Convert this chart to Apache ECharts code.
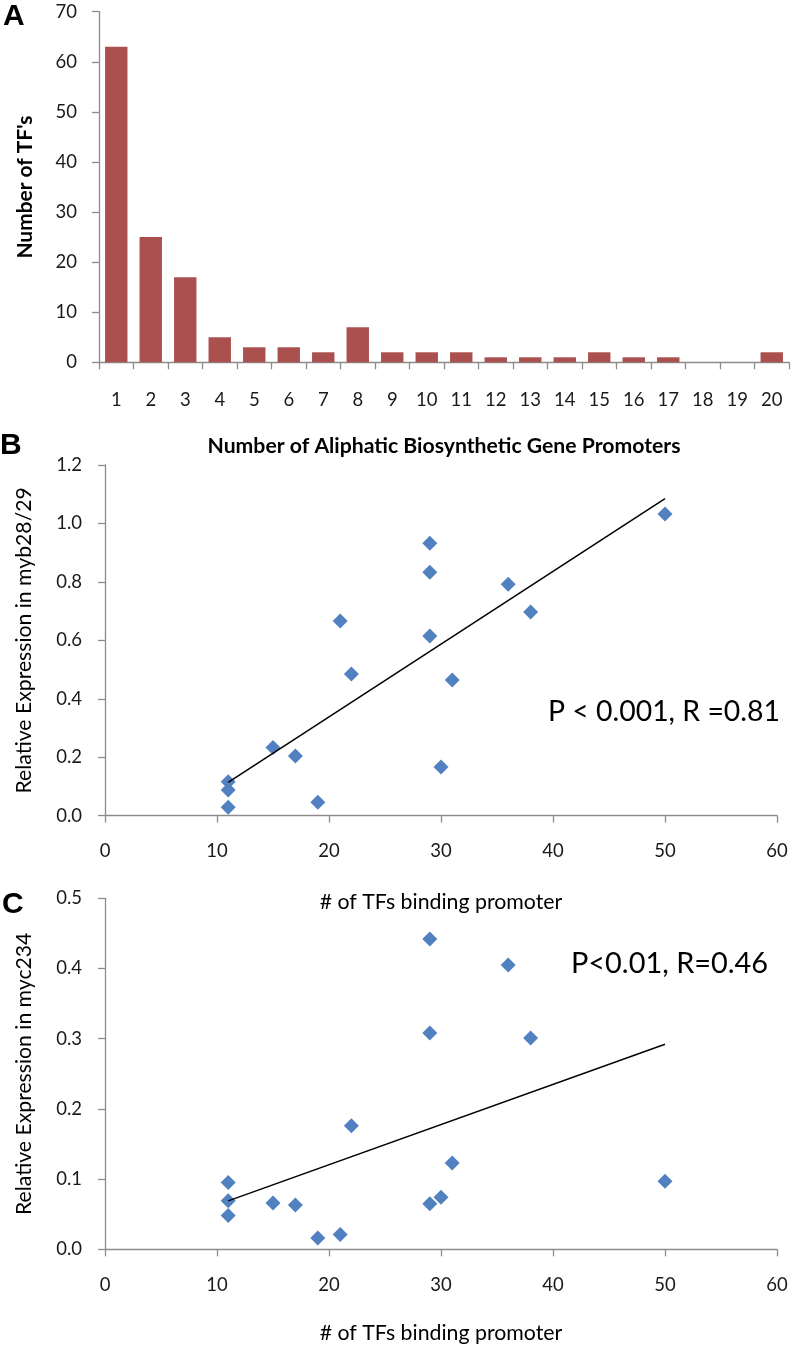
<!DOCTYPE html>
<html>
<head>
<meta charset="utf-8">
<script src="https://cdn.jsdelivr.net/npm/echarts@6/dist/echarts.min.js"></script>
<style>
html,body{margin:0;padding:0;background:#fff;}
#chart{width:793px;height:1345px;}
</style>
</head>
<body>
<div id="chart"></div>
<script>
// Panel A: histogram
const categoriesA = ['1','2','3','4','5','6','7','8','9','10','11','12','13','14','15','16','17','18','19','20'];
const countsA = [63,25,17,5,3,3,2,7,2,2,2,1,1,1,2,1,1,0,0,2];

// Panel B: myb28/29
const xB = [11,11,11,15,17,19,21,22,29,29,29,30,31,36,38,50];
const yB = [0.116,0.088,0.029,0.233,0.204,0.046,0.666,0.485,0.932,0.833,0.615,0.167,0.464,0.792,0.697,1.032];
const trendBx = [11,50];
const trendBy = [0.114,1.085];

// Panel C: myc234
const xC = [11,11,11,15,17,19,21,22,29,29,29,30,31,36,38,50];
const yC = [0.095,0.069,0.048,0.066,0.063,0.016,0.021,0.176,0.442,0.308,0.065,0.074,0.123,0.405,0.301,0.097];
const trendCx = [11,50];
const trendCy = [0.069,0.292];

const titleA_x = 'Number of Aliphatic Biosynthetic Gene Promoters';
const titleA_y = "Number of TF's";
const titleBC_x = '# of TFs binding promoter';
const titleB_y = 'Relative Expression in myb28/29';
const titleC_y = 'Relative Expression in myc234';
const statB = 'P < 0.001, R =0.81';
const statC = 'P<0.01, R=0.46';

const FONT = 'Lato';
const AXIS_COLOR = '#8c8c8c';
const LABEL_COLOR = '#1a1a1a';

// choose a font size so the text spans the given width
const mctx = document.createElement('canvas').getContext('2d');
function fit(text, weight, width) {
  mctx.font = weight + ' 100px ' + FONT;
  return Math.round(100 * width / mctx.measureText(text).width * 10) / 10;
}

const pairs = (xs, ys) => xs.map((x, i) => [x, ys[i]]);

const chart = echarts.init(document.getElementById('chart'), null, {renderer: 'canvas'});

const axisLine = {show: true, lineStyle: {color: AXIS_COLOR, width: 1.3}};
const axisTick = {show: true, length: 7, lineStyle: {color: AXIS_COLOR, width: 1.3}};
const tickLabel = (margin, fmt) => ({fontFamily: FONT, fontSize: 18.5, color: LABEL_COLOR, margin: margin, formatter: fmt});
const nameStyle = (weight, size) => ({fontFamily: FONT, fontWeight: weight, fontSize: size, color: '#000', verticalAlign: 'middle'});

const option = {
  animation: false,
  backgroundColor: '#fff',
  grid: [
    {left: 99, top: 11.7, width: 690, height: 350.6, containLabel: false},
    {left: 105, top: 465, width: 672, height: 350.7, containLabel: false},
    {left: 105, top: 898.3, width: 672, height: 351, containLabel: false}
  ],
  xAxis: [
    {
      gridIndex: 0, type: 'category', data: categoriesA,
      axisLine: axisLine,
      axisTick: {show: true, length: 7, alignWithLabel: false, lineStyle: {color: AXIS_COLOR, width: 1.3}},
      axisLabel: Object.assign(tickLabel(28), {interval: 0}),
      name: titleA_x, nameLocation: 'middle', nameGap: 84,
      nameTextStyle: nameStyle('bold', fit(titleA_x, 'bold', 473))
    },
    {
      gridIndex: 1, type: 'value', min: 0, max: 60, interval: 10,
      axisLine: axisLine, axisTick: axisTick, splitLine: {show: false},
      axisLabel: tickLabel(26),
      name: titleBC_x, nameLocation: 'middle', nameGap: 86,
      nameTextStyle: nameStyle('normal', fit(titleBC_x, 'normal', 243))
    },
    {
      gridIndex: 2, type: 'value', min: 0, max: 60, interval: 10,
      axisLine: axisLine, axisTick: axisTick, splitLine: {show: false},
      axisLabel: tickLabel(26),
      name: titleBC_x, nameLocation: 'middle', nameGap: 84,
      nameTextStyle: nameStyle('normal', fit(titleBC_x, 'normal', 243))
    }
  ],
  yAxis: [
    {
      gridIndex: 0, type: 'value', min: 0, max: 70, interval: 10,
      axisLine: axisLine, axisTick: axisTick, splitLine: {show: false},
      axisLabel: tickLabel(22),
      name: titleA_y, nameLocation: 'middle', nameGap: 74,
      nameTextStyle: nameStyle('bold', fit(titleA_y, 'bold', 143))
    },
    {
      gridIndex: 1, type: 'value', min: 0, max: 1.2, interval: 0.2,
      axisLine: axisLine, axisTick: axisTick, splitLine: {show: false},
      axisLabel: tickLabel(23, v => v.toFixed(1)),
      name: titleB_y, nameLocation: 'middle', nameGap: 81,
      nameTextStyle: nameStyle('normal', fit(titleB_y, 'normal', 307))
    },
    {
      gridIndex: 2, type: 'value', min: 0, max: 0.5, interval: 0.1,
      axisLine: axisLine, axisTick: axisTick, splitLine: {show: false},
      axisLabel: tickLabel(23, v => v.toFixed(1)),
      name: titleC_y, nameLocation: 'middle', nameGap: 81,
      nameTextStyle: nameStyle('normal', fit(titleC_y, 'normal', 282))
    }
  ],
  series: [
    {
      type: 'bar', xAxisIndex: 0, yAxisIndex: 0, data: countsA,
      barCategoryGap: '35%', itemStyle: {color: '#AA5150'}
    },
    {
      type: 'scatter', xAxisIndex: 1, yAxisIndex: 1, data: pairs(xB, yB),
      symbol: 'diamond', symbolSize: 15, itemStyle: {color: '#5181C0', opacity: 1}
    },
    {
      type: 'line', xAxisIndex: 1, yAxisIndex: 1, data: pairs(trendBx, trendBy),
      symbol: 'none', lineStyle: {color: '#000', width: 1.5}
    },
    {
      type: 'scatter', xAxisIndex: 2, yAxisIndex: 2, data: pairs(xC, yC),
      symbol: 'diamond', symbolSize: 15, itemStyle: {color: '#5181C0', opacity: 1}
    },
    {
      type: 'line', xAxisIndex: 2, yAxisIndex: 2, data: pairs(trendCx, trendCy),
      symbol: 'none', lineStyle: {color: '#000', width: 1.5}
    }
  ],
  graphic: [
    {type: 'text', x: 3, y: 17, style: {text: 'A', font: 'bold 30px "Liberation Sans", Arial, sans-serif', fill: '#000', verticalAlign: 'middle'}},
    {type: 'text', x: 0, y: 446, style: {text: 'B', font: 'bold 30px "Liberation Sans", Arial, sans-serif', fill: '#000', verticalAlign: 'middle'}},
    {type: 'text', x: 2, y: 905, style: {text: 'C', font: 'bold 30px "Liberation Sans", Arial, sans-serif', fill: '#000', verticalAlign: 'middle'}},
    {type: 'text', x: 548, y: 712, style: {text: statB, font: fit(statB, 'normal', 232) + 'px Lato', fill: '#000', verticalAlign: 'middle'}},
    {type: 'text', x: 571, y: 964, style: {text: statC, font: fit(statC, 'normal', 197) + 'px Lato', fill: '#000', verticalAlign: 'middle'}}
  ]
};
chart.setOption(option);
</script>
</body>
</html>
